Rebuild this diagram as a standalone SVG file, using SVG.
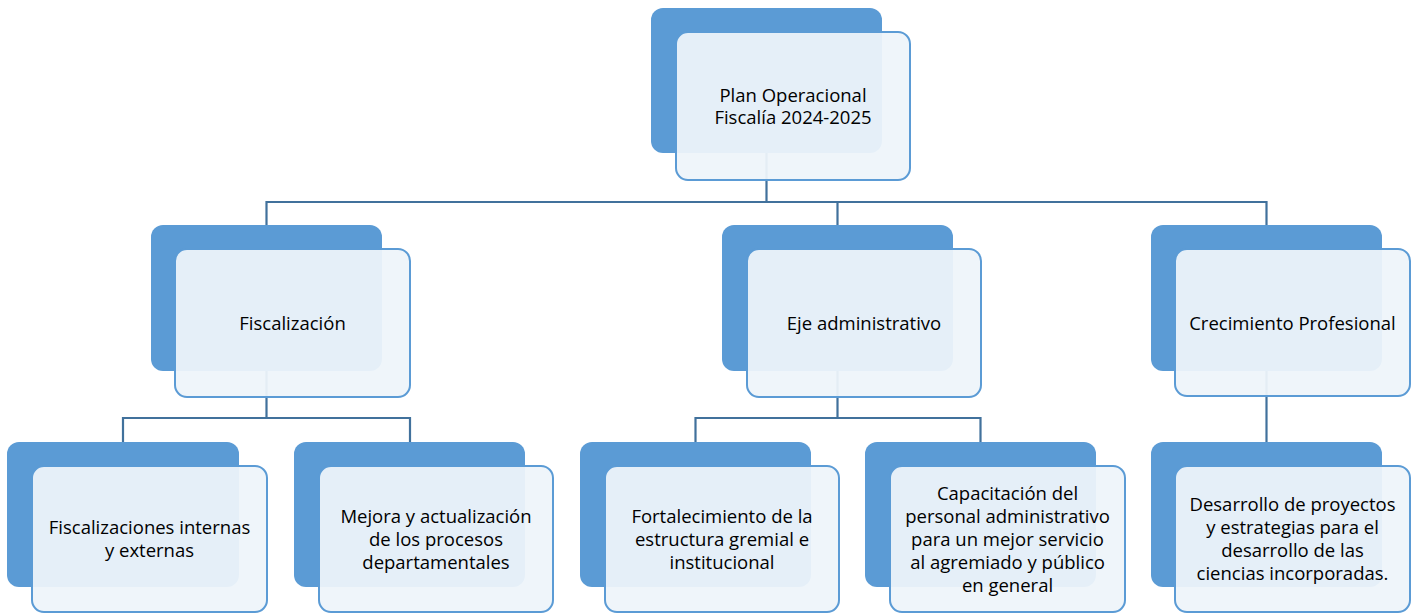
<svg xmlns="http://www.w3.org/2000/svg" width="1417" height="614" viewBox="0 0 1417 614">
<style>
.bg{fill:#5B9BD5}
.fg{fill:#EEF4FA;fill-opacity:0.94;stroke:#5B9BD5;stroke-width:2}
.c{fill:none;stroke:#41719C;stroke-width:2.2}
text{font-family:"Open Sans","Liberation Sans",sans-serif;font-size:18.5px;fill:#000;text-anchor:middle}
</style>
<rect width="1417" height="614" fill="#fff"/>
<g id="connectors">
<path class="c" d="M766.5 153V202M266.5 225V202H1266.5V225M837.5 202V225"/>
<path class="c" d="M266.5 371V418M123 442V418H410V442"/>
<path class="c" d="M837.5 371V418M695.5 442V418H980.5V442"/>
<path class="c" d="M1266.5 371V442"/>
</g>
<g id="n-plan">
<rect class="bg" x="651" y="8" width="231" height="145" rx="12"/>
<rect class="fg" x="676" y="32" width="234" height="148" rx="12"/>
<text x="793" y="101.5">Plan Operacional</text>
<text x="793" y="124">Fiscalía 2024-2025</text>
</g>
<g id="n-fiscalizacion">
<rect class="bg" x="151" y="225" width="231" height="146" rx="12"/>
<rect class="fg" x="175" y="249" width="235" height="148" rx="12"/>
<text x="292.5" y="329.5">Fiscalización</text>
</g>
<g id="n-eje">
<rect class="bg" x="722" y="225" width="231" height="146" rx="12"/>
<rect class="fg" x="747" y="249" width="234" height="148" rx="12"/>
<text x="864" y="329.5">Eje administrativo</text>
</g>
<g id="n-crecimiento">
<rect class="bg" x="1151" y="225" width="231" height="146" rx="12"/>
<rect class="fg" x="1175" y="249" width="235" height="147" rx="12"/>
<text x="1292.5" y="329.5">Crecimiento Profesional</text>
</g>
<g id="n-fiscint">
<rect class="bg" x="7" y="442" width="232" height="145" rx="12"/>
<rect class="fg" x="32" y="466" width="235" height="146" rx="12"/>
<text x="149.5" y="534">Fiscalizaciones internas</text>
<text x="149.5" y="557">y externas</text>
</g>
<g id="n-mejora">
<rect class="bg" x="294" y="442" width="231" height="145" rx="12"/>
<rect class="fg" x="319" y="466" width="234" height="146" rx="12"/>
<text x="436" y="522.5">Mejora y actualización</text>
<text x="436" y="545.5">de los procesos</text>
<text x="436" y="568.5">departamentales</text>
</g>
<g id="n-fortalecimiento">
<rect class="bg" x="580" y="442" width="231" height="145" rx="12"/>
<rect class="fg" x="605" y="466" width="234" height="146" rx="12"/>
<text x="722" y="522.5">Fortalecimiento de la</text>
<text x="722" y="545.5">estructura gremial e</text>
<text x="722" y="568.5">institucional</text>
</g>
<g id="n-capacitacion">
<rect class="bg" x="865" y="442" width="231" height="145" rx="12"/>
<rect class="fg" x="890" y="466" width="235" height="146" rx="12"/>
<text x="1007.5" y="499.5">Capacitación del</text>
<text x="1007.5" y="522.5">personal administrativo</text>
<text x="1007.5" y="545.5">para un mejor servicio</text>
<text x="1007.5" y="568.5">al agremiado y público</text>
<text x="1007.5" y="591.5">en general</text>
</g>
<g id="n-desarrollo">
<rect class="bg" x="1151" y="442" width="231" height="145" rx="12"/>
<rect class="fg" x="1175" y="466" width="235" height="146" rx="12"/>
<text x="1292.5" y="511">Desarrollo de proyectos</text>
<text x="1292.5" y="534">y estrategias para el</text>
<text x="1292.5" y="557">desarrollo de las</text>
<text x="1292.5" y="580">ciencias incorporadas.</text>
</g>
</svg>
